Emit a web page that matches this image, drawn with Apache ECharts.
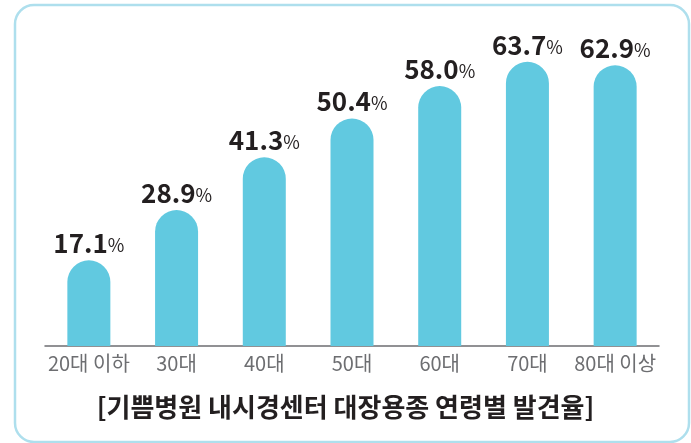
<!DOCTYPE html>
<html>
<head>
<meta charset="utf-8">
<script src="https://cdn.jsdelivr.net/npm/echarts@6/dist/echarts.min.js"></script>
<style>
  html, body { margin: 0; padding: 0; background: #fff; }
  #chart { width: 691px; height: 443px; }
</style>
</head>
<body>
<div id="chart"></div>
<script>
// 연령대별 대장용종 발견율 (%)
var categories = ['20대 이하', '30대', '40대', '50대', '60대', '70대', '80대 이상']
var rates = [17.1, 28.9, 41.3, 50.4, 58.0, 63.7, 62.9]
var chartTitle = '[기쁨병원 내시경센터 대장용종 연령별 발견율]'

var font = '"Noto Sans CJK KR", "Noto Sans", sans-serif'
var chart = echarts.init(document.getElementById('chart'))

chart.setOption({
  animation: false,
  title: {
    text: chartTitle,
    left: 'center',
    top: 389,
    textStyle: {
      fontFamily: font,
      fontSize: 26,
      fontWeight: 'bold',
      color: '#231f20'
    }
  },
  graphic: [{
    type: 'rect',
    shape: { x: 15, y: 5, width: 674, height: 437, r: 19 },
    style: { fill: 'none', stroke: '#aedfed', lineWidth: 2.5 },
    z: -1
  }],
  grid: {
    left: 45,
    right: 32,
    top: 35,
    bottom: 97
  },
  xAxis: {
    type: 'category',
    data: categories,
    axisTick: { show: false },
    axisLine: {
      onZero: false,
      lineStyle: { color: '#6d6e71', width: 1.5 }
    },
    axisLabel: {
      interval: 0,
      fontFamily: font,
      fontSize: 20,
      color: '#6d6e71',
      margin: 7
    }
  },
  yAxis: {
    type: 'value',
    min: -3,
    max: 70,
    startValue: -3,
    show: false,
    splitLine: { show: false }
  },
  series: [{
    type: 'bar',
    data: rates,
    barWidth: 43,
    itemStyle: {
      color: '#61c9e0',
      borderRadius: [21.5, 21.5, 0, 0]
    },
    label: {
      show: true,
      position: 'top',
      distance: 4,
      formatter: function (p) {
        return '{num|' + p.value.toFixed(1) + '}{pct|%}'
      },
      rich: {
        num: {
          fontFamily: font,
          fontSize: 26,
          fontWeight: 'bold',
          color: '#231f20'
        },
        pct: {
          fontFamily: font,
          fontSize: 18,
          color: '#231f20',
          padding: [4, 0, 0, 0]
        }
      }
    }
  }]
})
</script>
</body>
</html>
